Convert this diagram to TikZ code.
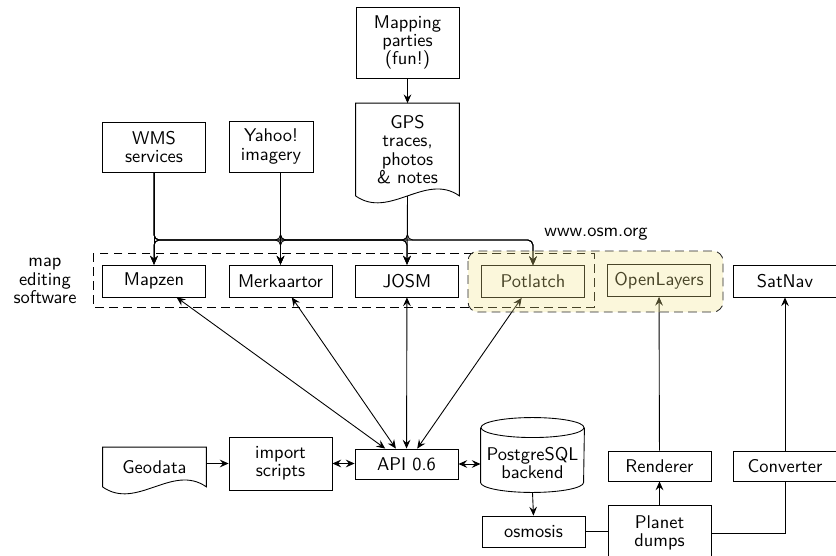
\documentclass[tikz,border=0pt]{standalone}
\usetikzlibrary{arrows.meta,calc}
\definecolor{osmcol}{RGB}{243,230,135}
\begin{document}
\begin{tikzpicture}[x=0.57pt,y=-0.57pt,
  every path/.style={line width=0.5pt},
  font=\sffamily\fontsize{10.5}{10.4}\selectfont,
  box/.style={draw, align=center, inner sep=0pt, minimum width=58.7pt, minimum height=18.2pt},
  plain/.style={align=center, inner sep=0pt, minimum width=58.7pt},
  >={Stealth[length=5pt,width=4.4pt,inset=1.8pt]},
  busline/.style={->, rounded corners=3pt},
  dashbox/.style={dash pattern=on 5pt off 3pt},
  docshape/.style={append after command={
    \pgfextra{\draw (\tikzlastnode.north west) -- (\tikzlastnode.north east) -- (\tikzlastnode.south east)
      .. controls +(-34,-24) and +(34,24) .. (\tikzlastnode.south west) -- cycle;}}},
]
\useasboundingbox (0,0) rectangle (836,556);

% top row
\node[box, minimum height=40.5pt] (mapping) at (407.5,42.5) {Mapping\\parties\\(fun!)};
\node[plain, minimum height=52.4pt, docshape] (gps) at (407.5,149.5) {GPS\\traces,\\photos\\\& notes};
\node[box, minimum height=28.5pt] (wms) at (154,147) {WMS\\services};
\node[box, minimum width=47.9pt, minimum height=29pt] (yahoo) at (271,146.5) {Yahoo!\\imagery};

% editors
\node[box] (mapzen) at (154,281) {Mapzen};
\node[box] (merk) at (280.5,281) {Merkaartor};
\node[box] (josm) at (407,281) {JOSM};
\node[box] (potlatch) at (533,281.5) {Potlatch};
\node[box] (openlayers) at (659,280.5) {OpenLayers};
\node[box] (satnav) at (785,281) {SatNav};

\node[align=center, inner sep=0pt] (mapedit) at (45,281) {map\\editing\\software};
\node[inner sep=0pt] (osmlabel) at (596,234) {www.osm.org};

% bottom
\node[plain, minimum height=22.2pt, docshape] (geo) at (154.5,467) {Geodata};
\node[box, minimum height=30.2pt] (import) at (280.5,463.5) {import\\scripts};
\node[box, minimum height=17.1pt] (api) at (406.5,464) {API 0.6};
\node[plain, minimum height=42.2pt] (pg) at (532.5,455) {};
\draw ($(pg.north west)+(0,10)$) -- ($(pg.south west)+(0,-10)$)
  arc[start angle=180, end angle=0, x radius=51.5, y radius=10] -- ($(pg.north east)+(0,10)$);
\draw ($(pg.north)+(0,10)$) ellipse[x radius=51.5, y radius=10];
\node[align=center, inner sep=0pt] (pgt) at (532.5,463) {PostgreSQL\\backend};
\node[box, minimum height=17.7pt] (osmosis) at (533.5,531.5) {osmosis};
\node[box, minimum height=31.9pt] (planet) at (659.5,533) {Planet\\dumps};
\node[box, minimum height=17.1pt] (renderer) at (659.5,466) {Renderer};
\node[box, minimum height=17.1pt] (converter) at (785,466) {Converter};

% connectors top
\coordinate (bus) at (0,240);
\coordinate (gpsb) at (407.5,196);
\draw[->] (mapping) -- (gps);
\draw[->] (wms) -- (mapzen);
\draw[busline] (wms.south) |- (merk.north |- bus) -- (merk.north);
\draw[busline] (wms.south) |- (josm.north |- bus) -- (josm.north);
\draw[busline] (wms.south) |- (potlatch.north |- bus) -- (potlatch.north);
\draw[busline] (yahoo.south -| merk.north) |- (mapzen.north |- bus) -- (mapzen.north);
\draw[->] (yahoo.south -| merk.north) -- (merk.north);
\draw[busline] (yahoo.south -| merk.north) |- (josm.north |- bus) -- (josm.north);
\draw[busline] (yahoo.south -| merk.north) |- (potlatch.north |- bus) -- (potlatch.north);
\draw[busline] (gpsb) |- (mapzen.north |- bus) -- (mapzen.north);
\draw[busline] (gpsb) |- (merk.north |- bus) -- (merk.north);
\draw[->] (gpsb) -- (josm.north);
\draw[busline] (gpsb) |- (potlatch.north |- bus) -- (potlatch.north);

% api links
\draw[<->] (api) -- (mapzen);
\draw[<->] (api) -- (merk);
\draw[<->] (api) -- (josm);
\draw[<->] (api) -- (potlatch);

% bottom connectors
\draw[->] (import.west -| geo.east) -- (import.west);
\draw[<->] (import.east) -- (import.east -| api.west);
\draw[<->] (api.east) -- (api.east -| pg.west);
\draw[->] (pg.south) -- (osmosis.north);
\draw (osmosis.east) -- (osmosis.east -| planet.west);
\draw[->] (planet) -- (renderer);
\draw[->] (renderer) -- (openlayers);
\draw (planet.east) -| (converter.south);
\draw[->] (converter) -- (satnav);

% groups
\draw[dashbox] (93,253) rectangle (594,307);
\fill[osmcol, fill opacity=0.3, rounded corners=5.7pt] (468,251) rectangle (723,312);
\draw[dashbox, black!85, rounded corners=5.7pt] (468,251) rectangle (723,312);
\end{tikzpicture}
\end{document}
